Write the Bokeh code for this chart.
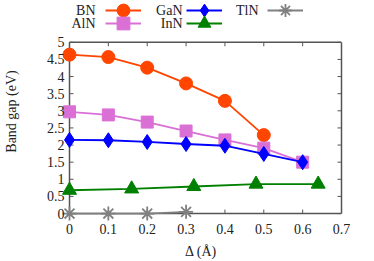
from bokeh.plotting import figure
from bokeh.models import Legend, LegendItem, Label, LinearAxis, FixedTicker, Range1d
from bokeh.embed import file_html
from bokeh.resources import INLINE

delta_bn = [0, 0.1, 0.2, 0.3, 0.4, 0.5]
gap_bn = [4.64, 4.57, 4.26, 3.80, 3.29, 2.29]
delta_aln = [0, 0.1, 0.2, 0.3, 0.4, 0.5, 0.6]
gap_aln = [2.97, 2.88, 2.67, 2.41, 2.15, 1.91, 1.50]
delta_gan = [0, 0.1, 0.2, 0.3, 0.4, 0.5, 0.6]
gap_gan = [2.15, 2.14, 2.09, 2.03, 1.98, 1.74, 1.50]
delta_inn = [0, 0.16, 0.32, 0.48, 0.64]
gap_inn = [0.68, 0.72, 0.79, 0.86, 0.86]
delta_tln = [0, 0.1, 0.2, 0.3]
gap_tln = [0, 0, 0, 0.05]

x_ticks = [0, 0.1, 0.2, 0.3, 0.4, 0.5, 0.6, 0.7]
y_ticks = [0, 0.5, 1, 1.5, 2, 2.5, 3, 3.5, 4, 4.5, 5]

FONT = "Liberation Serif"
AX = "#555555"
TXT = "#222222"

W, H = 374, 261
BOX_L, BOX_R = 69, 341          # px positions of x=0 and x=0.7
BOX_TOP, BOX_BOT = 42, 214      # px positions of y=5 and y=0
PAD = 9                         # frame extends past the box so edge markers are not clipped
FL = BOX_L - PAD                # frame left (px)
FB = BOX_BOT + PAD              # frame bottom (px)
x0, x_max = x_ticks[0], x_ticks[-1]
y0, y_box = y_ticks[0], y_ticks[-1]
kx = (BOX_R - BOX_L) / (x_max - x0)
ky = (BOX_BOT - BOX_TOP) / (y_box - y0)

p = figure(width=W, height=H, output_backend="svg", toolbar_location=None,
           x_range=Range1d(x0 - PAD / kx, x_max), y_range=Range1d(y0 - PAD / ky, BOX_BOT / ky),
           min_border_left=FL, min_border_right=W - BOX_R, min_border_top=0,
           min_border_bottom=H - FB)
p.grid.visible = False
p.outline_line_color = None
p.background_fill_color = "white"

for ax in (p.xaxis[0], p.yaxis[0]):
    ax.axis_line_color = None
    ax.major_tick_line_color = None
    ax.major_tick_in = 0
    ax.major_tick_out = 0
    ax.minor_tick_line_color = None
    ax.major_label_text_font = FONT
    ax.major_label_text_font_size = "14px"
    ax.major_label_text_color = TXT
    ax.axis_label_text_font = FONT
    ax.axis_label_text_font_size = "14px"
    ax.axis_label_text_font_style = "normal"
    ax.axis_label_text_color = TXT

p.xaxis[0].ticker = FixedTicker(ticks=x_ticks)
p.yaxis[0].ticker = FixedTicker(ticks=y_ticks)
p.xaxis[0].major_label_overrides = {t: f"{t:g}" for t in x_ticks}
p.yaxis[0].major_label_overrides = {t: f"{t:g}" for t in y_ticks}
p.xaxis[0].axis_label = "Δ (Å)"
p.yaxis[0].axis_label = "Band gap (eV)"
p.xaxis[0].major_label_standoff = 1
p.xaxis[0].axis_label_standoff = 7
p.yaxis[0].major_label_standoff = -4
p.yaxis[0].axis_label_standoff = 25

# right border of the box (no ticks / labels)
right = LinearAxis(ticker=FixedTicker(ticks=[]), bounds=(y0, y_box), axis_line_color=AX,
                   axis_line_width=1.5, minor_tick_line_color=None, major_tick_line_color=None)
p.add_layout(right, "right")

# box edges and inward ticks (derived from the tick lists)
p.segment(x0=[x0, x0, x0], x1=[x_max, x_max, x0], y0=[y0, y_box, y0], y1=[y0, y_box, y_box],
          line_color=AX, line_width=1.5)
tick_px = 4
ty = tick_px / ky
tx = tick_px / kx
n, m = len(x_ticks), len(y_ticks)
p.segment(x0=x_ticks, x1=x_ticks, y0=[y_box] * n, y1=[y_box - ty] * n, line_color=AX, line_width=1)
p.segment(x0=x_ticks, x1=x_ticks, y0=[y0] * n, y1=[y0 + ty] * n, line_color=AX, line_width=1)
p.segment(x0=[x_max] * m, x1=[x_max - tx] * m, y0=y_ticks, y1=y_ticks, line_color=AX, line_width=1)
p.segment(x0=[x0] * m, x1=[x0 + tx] * m, y0=y_ticks, y1=y_ticks, line_color=AX, line_width=1)

LW = 1.8

def series(x, y, color, marker, size, fill=True):
    l = p.line(x, y, line_color=color, line_width=LW)
    mk = p.scatter(x, y, marker=marker, size=size, fill_color=color if fill else None,
                   line_color=color, line_width=1 if fill else LW)
    return [l, mk]

r_bn = series(delta_bn, gap_bn, "#FF4500", "circle", 13)
r_aln = series(delta_aln, gap_aln, "#DA70D6", "square", 12)
r_gan = series(delta_gan, gap_gan, "#0000FF", "diamond", 15)
r_inn = series(delta_inn, gap_inn, "#008000", "triangle", 14)
r_tln = series(delta_tln, gap_tln, "#808080", "asterisk", 14, fill=False)

GH = 32          # legend glyph box height (sets key marker size)
rows = [
    (["BN", "GaN", "TlN"], [r_bn, r_gan, r_tln], 11),
    (["AlN", "InN"], [r_aln, r_inn], 24),
]
text_right = [95, 182, 258]
for names, rends, mid in rows:
    items = [LegendItem(label=" ", renderers=r) for r in rends]
    leg = Legend(items=items, orientation="horizontal",
                 location=(105 - FL, FB - mid - GH // 2),
                 glyph_width=36, glyph_height=GH, label_width=44, label_height=GH,
                 label_standoff=0, spacing=1, padding=0, margin=0,
                 border_line_alpha=0, background_fill_alpha=0,
                 label_text_font=FONT, label_text_font_size="1px")
    p.add_layout(leg, "center")
    for name, tr in zip(names, text_right):
        p.add_layout(Label(x=tr - FL, y=FB - mid, x_units="screen", y_units="screen",
                           text=name, text_align="right", text_baseline="middle",
                           text_font=FONT, text_font_size="14px", text_color=TXT))

open("out.html", "w").write(file_html(p, INLINE))
